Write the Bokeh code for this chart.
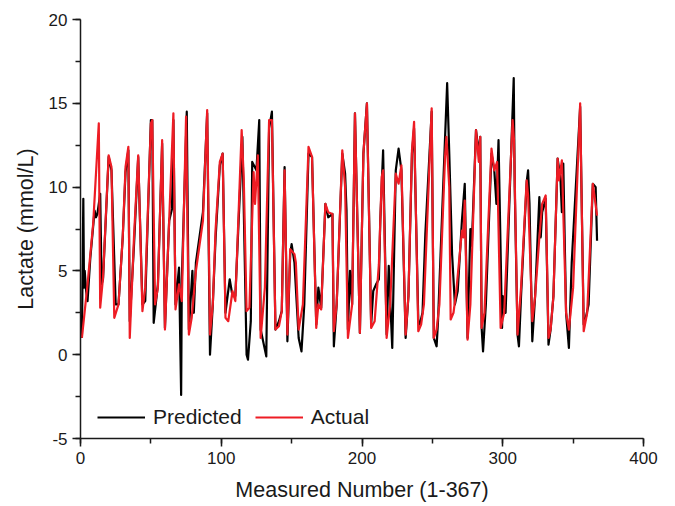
from bokeh.plotting import figure
from bokeh.models import SingleIntervalTicker, Range1d, Legend, LegendItem, PrintfTickFormatter
from bokeh.embed import file_html
from bokeh.resources import INLINE

# Actual (red) series vertices
actual_x = [1, 5, 9, 13, 14, 16, 20, 22, 24, 27, 30, 32, 34, 35, 38, 41, 44, 46, 50, 51, 53, 55, 58, 60,
            63, 66, 67.5, 70, 72, 75, 77, 79, 82, 87, 90, 92, 94, 96, 99, 101, 103, 105, 108, 110, 114.5, 116, 118,
            120, 123, 124, 126, 128, 131, 134, 136, 138.5, 141, 143, 145, 147, 149, 152, 153, 155, 158, 162, 164.5,
            167.5, 169, 171, 174, 176, 179, 180,
            182, 186, 188, 190, 193, 195, 198.5, 201, 203.5, 206.5, 209, 212, 214, 215, 217.5, 220, 224, 226, 228,
            231, 233, 235.5, 237, 240,
            242, 244, 249.5, 251, 253, 255, 259, 260, 262, 263, 265, 267, 271, 272, 273, 275, 277, 281, 283, 284,
            285, 287, 292, 294, 296, 298.5,
            301, 307, 308, 310.5, 313, 317, 318, 321, 323, 326, 328, 330.5, 332.5, 334, 336, 339, 340, 342, 345,
            347, 350, 355, 357.5, 360, 364, 367]
actual_y = [1.0, 4.2, 7.8, 13.8, 2.8, 4.6, 11.9, 11.2, 2.2, 3.0, 7.0, 11.2, 12.4, 1.0, 7.0, 11.9, 2.6, 4.0, 13.8,
            14.0, 3.0, 4.0, 12.8, 1.5,
            8.0, 14.4, 2.7, 4.2, 3.2, 14.2, 1.2, 2.2, 5.0, 8.0, 14.6, 1.2, 3.0, 7.5, 11.5, 12.0, 2.2, 2.0, 3.8, 3.2,
            13.4, 10.5, 2.6,
            2.8, 10.9, 9.0, 11.9, 1.0, 4.0, 14.0, 14.0, 1.5, 1.7, 2.6, 11.0, 1.2, 6.3, 6.0, 5.5, 1.5, 3.0, 12.4,
            11.8, 1.6, 3.0, 2.7, 9.0, 8.5, 8.4, 1.4,
            3.0, 12.2, 10.0, 1.0, 3.0, 14.4, 1.3, 12.0, 15.0, 1.6, 2.0, 5.4, 10.6, 11.0, 1.0, 3.0, 10.8, 10.2, 11.3,
            1.2, 3.5, 12.2, 13.9, 1.4,
            1.8, 3.0, 14.7, 1.0, 1.5, 3.0, 11.8, 13.0, 10.0, 2.1, 2.5, 3.8, 7.4, 7.0, 9.2, 0.9, 3.0, 13.4, 11.5,
            13.0, 1.6, 2.5, 12.3, 11.0, 11.5, 1.6,
            2.5, 14.0, 12.8, 1.2, 4.0, 10.4, 9.5, 2.0, 3.5, 7.0, 9.0, 9.5, 1.0, 1.5, 3.5, 11.7, 10.4, 11.6, 2.5,
            1.5, 4.0, 15.0, 1.4, 2.5, 10.2, 8.3]

# Predicted (black) series vertices
predicted_x = [1, 2, 2.5, 3, 4, 5, 7, 10, 11, 12, 14, 15, 16, 20, 22, 25, 27, 30, 32, 34, 35, 38, 41, 44, 46, 50,
               51, 52, 55, 58, 60,
               63, 65, 66, 67.5, 70, 71.5, 72, 75.5, 77, 79.5, 80.5, 82, 87, 90, 92, 94, 96, 99, 101, 103, 106,
               108, 110, 115, 118,
               119, 121, 122, 125, 127, 128, 132, 134, 136, 138.5, 141, 143, 145, 147, 149, 150, 152, 155, 157,
               159, 162, 164.5, 167.5, 169, 171, 174, 176, 179, 180,
               182, 186, 188, 189, 190, 191.5, 193, 195, 198.5, 201, 203.5, 206.5, 208, 210, 212, 213, 215, 217.5,
               219, 221.5, 224, 226, 228, 231, 233, 235.5, 237, 240,
               241, 243, 245, 249.5, 251, 253, 254, 260.5, 262, 264, 266, 268, 271, 273, 275, 277, 278, 281, 283,
               284, 285, 286, 288, 292, 294, 295.5, 297, 299.5,
               300, 302, 307.8, 308.5, 310.5, 311.5, 313, 317, 318, 319, 321, 323, 326, 327, 328, 330.5, 332.5,
               334, 336, 339, 341, 342, 343, 345, 347, 349, 355, 357.5, 359, 361, 364, 366, 367]
predicted_y = [1.0, 9.3, 4.0, 5.0, 3.8, 3.2, 5.8, 8.6, 8.2, 8.4, 9.6, 4.2, 4.5, 11.8, 11.0, 3.0, 3.0, 7.0, 10.9,
               12.2, 2.0, 6.5, 11.8, 3.0, 3.2, 14.0, 14.0, 1.9, 4.2, 12.6, 1.6,
               8.0, 8.7, 14.0, 3.0, 5.2, -2.4, 4.5, 14.5, 1.5, 5.0, 2.5, 5.5, 8.5, 14.4, 0.0, 3.0, 7.0, 11.3, 12.0,
               2.5, 4.5, 3.5, 3.5, 13.0, 0.0,
               -0.3, 2.0, 11.5, 11.0, 14.0, 1.5, -0.1, 13.5, 14.5, 1.5, 2.0, 2.6, 11.2, 0.8, 6.0, 6.6, 5.5, 1.0,
               0.2, 3.0, 12.0, 11.8, 1.8, 4.0, 2.8, 9.0, 8.2, 8.4, 0.5,
               3.0, 12.0, 10.8, 8.6, 1.5, 5.0, 3.0, 14.4, 1.3, 12.0, 15.0, 1.8, 3.8, 4.2, 4.5, 8.0, 12.2, 1.2, 5.3,
               0.4, 11.0, 12.3, 11.0, 1.0, 3.5, 12.0, 13.5, 2.0,
               1.8, 2.5, 7.2, 14.5, 1.0, 0.5, 2.0, 16.2, 12.0, 6.0, 3.0, 3.8, 8.0, 10.2, 1.0, 7.5, 6.5, 13.4, 12.0,
               13.0, 1.6, 0.2, 3.0, 12.0, 11.0, 9.0, 12.8, 1.6,
               3.5, 2.5, 16.5, 10.0, 1.2, 0.5, 3.5, 10.3, 11.0, 9.0, 0.8, 3.5, 9.4, 7.0, 8.5, 9.3, 0.6, 1.5, 3.5,
               11.7, 10.5, 8.5, 11.4, 2.5, 0.4, 5.5, 14.8, 1.8, 2.2, 3.0, 10.2, 10.0, 6.8]

x_ticks_interval = 100
y_ticks_interval = 5

FONT = "Liberation Sans"
TEXT = "#1a1a1a"

p = figure(width=675, height=506, output_backend="svg", toolbar_location=None,
           x_range=Range1d(0, 400), y_range=Range1d(-5, 20),
           min_border_left=80, min_border_right=32, min_border_top=19, min_border_bottom=68)
p.outline_line_color = None
p.xgrid.visible = False
p.ygrid.visible = False
p.background_fill_color = "white"
p.border_fill_color = "white"

r_pred = p.line(predicted_x, predicted_y, line_color="black", line_width=2.2, line_join="round")
r_act = p.line(actual_x, actual_y, line_color="#ee1c24", line_width=2.2, line_join="round")

for ax, iv in ((p.xaxis[0], x_ticks_interval), (p.yaxis[0], y_ticks_interval)):
    ax.ticker = SingleIntervalTicker(interval=iv, num_minor_ticks=2)
    ax.formatter = PrintfTickFormatter(format="%d")
    ax.axis_line_color = TEXT
    ax.axis_line_width = 1.5
    ax.major_tick_line_color = TEXT
    ax.minor_tick_line_color = TEXT
    ax.major_tick_line_width = 1.5
    ax.minor_tick_line_width = 1.5
    ax.major_tick_in = 0
    ax.major_tick_out = 8
    ax.minor_tick_in = 0
    ax.minor_tick_out = 5
    ax.major_label_text_font = FONT
    ax.major_label_text_font_size = "17px"
    ax.major_label_text_color = TEXT
    ax.axis_label_text_font = FONT
    ax.axis_label_text_font_size = "21.5px"
    ax.axis_label_text_font_style = "normal"
    ax.axis_label_text_color = TEXT

p.xaxis.axis_label = "Measured Number (1-367)"
p.yaxis.axis_label = "Lactate (mmol/L)"
p.xaxis.axis_label_standoff = 11
p.yaxis.axis_label_standoff = 8

legend = Legend(items=[LegendItem(label="Predicted", renderers=[r_pred]),
                       LegendItem(label="Actual", renderers=[r_act])],
                orientation="horizontal", location=(17, 9),
                glyph_width=48, label_standoff=8, spacing=13, padding=0, margin=0,
                border_line_color=None, background_fill_alpha=0,
                label_text_font=FONT, label_text_font_size="21px", label_text_color=TEXT)
p.add_layout(legend, "center")

open("out.html", "w").write(file_html(p, INLINE))
